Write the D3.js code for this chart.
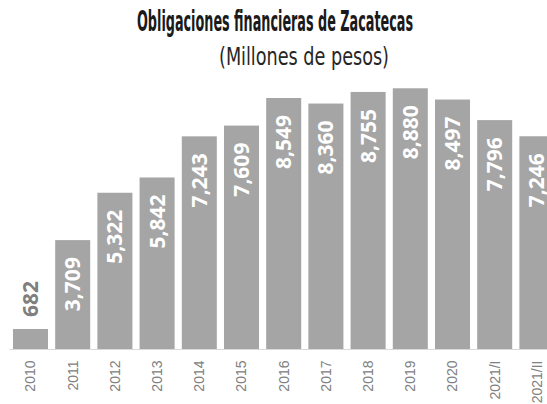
<!DOCTYPE html>
<html>
<head>
<meta charset="utf-8">
<script src="https://cdn.jsdelivr.net/npm/d3@7/dist/d3.min.js"></script>
<style>
  html, body { margin: 0; padding: 0; background: #fff; overflow: hidden; }
  svg { display: block; }
</style>
</head>
<body>
<svg id="chart" width="547" height="404"></svg>
<script>
// Obligaciones financieras de Zacatecas, millones de pesos
const periods = ["2010","2011","2012","2013","2014","2015","2016","2017","2018","2019","2020","2021/I","2021/II"];
const amounts = [682, 3709, 5322, 5842, 7243, 7609, 8549, 8360, 8755, 8880, 8497, 7796, 7246];

const titleText = "Obligaciones financieras de Zacatecas";
const subtitleText = "(Millones de pesos)";

const svg = d3.select("#chart");
const W = 547, H = 404;
const baseY = 349;

const x = d3.scaleBand()
  .domain(periods)
  .range([9.4, 558])
  .paddingInner(0.17)
  .paddingOuter(0.085);

const y = d3.scaleLinear()
  .domain([0, 10000])
  .range([baseY, baseY - 293.6]);

const fmt = d3.format(",");
const data = periods.map((p, i) => ({ p, v: amounts[i] }));

// Bars
svg.append("g")
  .selectAll("rect")
  .data(data)
  .join("rect")
  .attr("x", d => x(d.p))
  .attr("y", d => y(d.v))
  .attr("width", x.bandwidth())
  .attr("height", d => baseY - y(d.v))
  .attr("fill", "#a5a5a5");

// Baseline and category labels
const axis = d3.axisBottom(x).tickSize(0).tickPadding(0);
const gAxis = svg.append("g")
  .attr("transform", `translate(0,${baseY + 0.5})`)
  .call(axis);
gAxis.select(".domain").remove();
gAxis.append("line")
  .attr("x1", 9.5).attr("x2", W)
  .attr("stroke", "#d9d9d9").attr("stroke-width", 1.2);
gAxis.selectAll(".tick text")
  .attr("transform", "translate(0,11) rotate(-90)")
  .attr("x", 0).attr("y", 0).attr("dy", "0.35em")
  .attr("text-anchor", "end")
  .attr("fill", "#808080")
  .style("font-family", "'Liberation Sans', Arial, sans-serif")
  .style("font-size", "14px");

// Value labels
const small = d => baseY - y(d.v) < 80;
svg.append("g")
  .selectAll("text")
  .data(data)
  .join("text")
  .attr("transform", d => {
    const cx = x(d.p) + x.bandwidth() / 2;
    const ty = small(d) ? y(d.v) - 12 : y(d.v) + 17;
    return `translate(${cx},${ty}) rotate(-90)`;
  })
  .attr("dy", "0.36em")
  .attr("text-anchor", d => small(d) ? "start" : "end")
  .attr("fill", d => small(d) ? "#7f7f7f" : "#ffffff")
  .style("font-family", "'Open Sans', 'DejaVu Sans', sans-serif")
  .style("font-weight", "700")
  .style("font-size", "21px")
  .text(d => fmt(d.v));

// Title and subtitle
svg.append("text")
  .attr("x", 137).attr("y", 31)
  .attr("textLength", 276)
  .attr("lengthAdjust", "spacingAndGlyphs")
  .attr("fill", "#1a1a1a")
  .style("font-family", "'DejaVu Sans Condensed', 'Liberation Sans Narrow', sans-serif")
  .style("font-weight", "700")
  .style("font-size", "29px")
  .text(titleText);

svg.append("text")
  .attr("x", 219).attr("y", 65)
  .attr("textLength", 170)
  .attr("lengthAdjust", "spacingAndGlyphs")
  .attr("fill", "#262626")
  .style("font-family", "'DejaVu Sans Condensed', 'Liberation Sans Narrow', sans-serif")
  .style("font-size", "24px")
  .text(subtitleText);
</script>
</body>
</html>
